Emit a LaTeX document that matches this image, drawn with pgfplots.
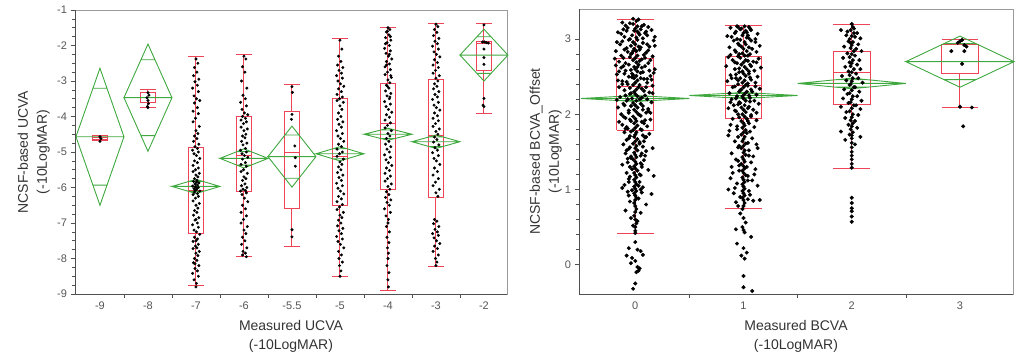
\documentclass[border=0pt]{standalone}
\usepackage{fontspec}
\setmainfont{Liberation Sans}
\usepackage{pgfplots}
\pgfplotsset{compat=1.18}

\definecolor{boxred}{HTML}{EE4458}
\definecolor{diagreen}{HTML}{3FA83F}
\definecolor{ticktext}{HTML}{555555}
\definecolor{frameg}{HTML}{9A9A9A}
\definecolor{framed}{HTML}{505050}

\pgfplotsset{
  jmpaxis/.style={
    scale only axis,
    anchor=south west,
    clip=false,
    axis line style={frameg, line width=0.8pt},
    tick align=outside,
    tick pos=left,
    major tick length=4.5pt,
    minor tick length=3.5pt,
    tick style={framed, line width=0.6pt},
    every major x tick/.append style={draw=none},
    tick label style={font=\fontsize{11}{13}\selectfont, text=ticktext},
    label style={font=\fontsize{14}{19}\selectfont, text=black!80, align=center, inner sep=0pt},
    xlabel style={at={(axis description cs:0.5,0)}, anchor=north, yshift=-26.5pt},
  },
  boxst/.style={boxred, line width=1pt, solid, no markers, unbounded coords=jump},
  diast/.style={diagreen, line width=0.9pt, no markers, unbounded coords=jump},
}

% quantile box: left x, centre x, right x, lower whisker, lower quartile, median, upper quartile, upper whisker
\newcommand{\jmpbox}[8]{%
  \addplot[boxst] coordinates {(#1,#5) (#3,#5) (#3,#7) (#1,#7) (#1,#5) (#2,nan)
    (#1,#6) (#3,#6) (#2,nan) (#2,#7) (#2,#8) (#2,nan) (#1,#8) (#3,#8) (#2,nan)
    (#2,#5) (#2,#4) (#2,nan) (#1,#4) (#3,#4)};}

\begin{document}
\begin{tikzpicture}
\useasboundingbox (0,0) rectangle (1022pt,360pt);

% ---------------- left panel: UCVA ----------------
\begin{axis}[
  jmpaxis,
  at={(75pt,66pt)},
  width=432pt, height=284pt,
  xmin=-0.52, xmax=8.48,
  ymin=-9, ymax=-1,
  xtick={0,...,8},
  xticklabels={-9,-8,-7,-6,-5.5,-5,-4,-3,-2},
  minor xtick={0.5,1.5,...,7.5},
  ytick={-9,-8,...,-1},
  yticklabels={-9,-8,-7,-6,-5,-4,-3,-2,-1},
  minor y tick num=3,
  xlabel={Measured UCVA\\(-10LogMAR)},
  ylabel={NCSF-based UCVA\\(-10LogMAR)},
  ylabel style={at={(axis description cs:-0.058,0.5)}, anchor=south},
]
% jittered observations
\addplot[only marks, mark=*, mark size=1.3pt, black] table {
x y
0.00 -4.57
0.02 -4.62
0.00 -4.70
1.00 -3.33
1.02 -3.40
0.98 -3.47
1.00 -3.55
1.01 -3.64
0.99 -3.72
1.00 -3.75
2.00 -2.38
2.04 -2.50
1.97 -2.62
2.02 -2.75
1.95 -2.85
2.06 -2.95
1.98 -3.02
2.03 -3.12
1.93 -3.20
2.05 -3.30
1.96 -3.42
2.01 -3.50
2.08 -3.55
1.97 -3.62
2.03 -3.75
1.94 -3.85
2.05 -3.92
1.99 -4.05
1.94 -4.15
2.07 -4.28
2.00 -4.40
2.04 -4.48
1.97 -4.55
2.02 -4.62
1.95 -4.70
2.06 -4.78
1.98 -4.85
2.03 -4.90
1.93 -4.95
2.05 -5.00
1.96 -5.05
2.01 -5.10
2.08 -5.18
1.97 -5.25
2.03 -5.30
1.94 -5.38
2.05 -5.45
1.99 -5.50
1.94 -5.55
2.07 -5.60
2.00 -5.65
2.04 -5.70
1.97 -5.75
2.02 -5.80
1.95 -5.83
2.06 -5.87
1.98 -5.90
2.03 -5.93
1.93 -5.96
2.05 -6.00
1.96 -6.03
2.01 -6.06
2.08 -6.10
1.97 -6.13
2.03 -6.17
1.94 -6.20
2.05 -6.25
1.99 -6.30
1.94 -6.38
2.07 -6.45
2.00 -6.50
2.04 -6.58
1.97 -6.65
2.02 -6.70
1.95 -6.78
2.06 -6.85
1.98 -6.92
2.03 -7.00
1.93 -7.05
2.05 -7.12
1.96 -7.20
2.01 -7.25
2.08 -7.32
1.97 -7.40
2.03 -7.45
1.94 -7.52
2.05 -7.60
1.99 -7.65
1.94 -7.72
2.07 -7.80
2.00 -7.85
2.04 -7.92
1.97 -8.00
2.02 -8.05
1.95 -8.12
2.06 -8.20
1.98 -8.28
2.03 -8.35
1.93 -8.42
2.05 -8.50
1.96 -8.60
2.01 -8.70
2.00 -8.80
1.99 -5.98
2.02 -6.02
1.98 -6.08
2.01 -5.85
2.00 -7.50
2.02 -7.70
1.98 -8.15
2.00 -6.90
3.00 -2.30
3.04 -2.38
2.97 -2.60
3.02 -2.75
2.95 -3.00
3.06 -3.20
2.98 -3.40
3.03 -3.50
2.93 -3.60
3.05 -3.70
2.96 -3.80
3.01 -3.90
3.08 -3.95
2.97 -4.00
3.03 -4.05
2.94 -4.10
3.05 -4.15
2.99 -4.20
2.94 -4.30
3.07 -4.35
3.00 -4.40
3.04 -4.50
2.97 -4.55
3.02 -4.60
2.95 -4.70
3.06 -4.75
2.98 -4.80
3.03 -4.90
2.93 -4.95
3.05 -5.00
2.96 -5.05
3.01 -5.10
3.08 -5.15
2.97 -5.20
3.03 -5.30
2.94 -5.35
3.05 -5.40
2.99 -5.50
2.94 -5.55
3.07 -5.60
3.00 -5.70
3.04 -5.75
2.97 -5.80
3.02 -5.90
2.95 -5.95
3.06 -6.00
2.98 -6.05
3.03 -6.08
2.93 -6.10
3.05 -6.15
2.96 -6.20
3.01 -6.30
3.08 -6.40
2.97 -6.50
3.03 -6.60
2.94 -6.70
3.05 -6.80
2.99 -6.90
2.94 -7.00
3.07 -7.10
3.00 -7.20
3.04 -7.30
2.97 -7.40
3.02 -7.50
2.95 -7.60
3.06 -7.70
2.98 -7.80
3.03 -7.85
2.97 -7.90
3.05 -7.95
4.00 -3.16
4.01 -3.32
4.00 -3.94
3.99 -4.08
4.06 -4.83
4.07 -5.16
4.07 -5.40
4.00 -7.19
4.00 -7.39
5.00 -1.85
5.04 -2.10
4.97 -2.30
5.02 -2.45
4.95 -2.55
5.06 -2.62
4.98 -2.70
5.03 -2.78
4.93 -2.85
5.05 -2.92
4.96 -3.00
5.01 -3.08
5.08 -3.15
4.97 -3.22
5.03 -3.30
4.94 -3.38
5.05 -3.45
4.99 -3.50
4.94 -3.55
5.07 -3.60
5.00 -3.70
5.04 -3.80
4.97 -3.90
5.02 -4.00
4.95 -4.08
5.06 -4.15
4.98 -4.22
5.03 -4.30
4.93 -4.40
5.05 -4.48
4.96 -4.55
5.01 -4.62
5.08 -4.70
4.97 -4.78
5.03 -4.85
4.94 -4.92
5.05 -5.00
4.99 -5.05
4.94 -5.12
5.07 -5.20
5.00 -5.28
5.04 -5.35
4.97 -5.42
5.02 -5.50
4.95 -5.58
5.06 -5.65
4.98 -5.72
5.03 -5.80
4.93 -5.88
5.05 -5.95
4.96 -6.02
5.01 -6.10
5.08 -6.18
4.97 -6.25
5.03 -6.32
4.94 -6.40
5.05 -6.48
4.99 -6.55
4.94 -6.62
5.07 -6.70
5.00 -6.78
5.04 -6.85
4.97 -6.92
5.02 -7.00
4.95 -7.08
5.06 -7.15
4.98 -7.22
5.03 -7.30
4.93 -7.38
5.05 -7.45
4.96 -7.52
5.01 -7.60
5.08 -7.70
4.97 -7.80
5.03 -7.90
4.98 -8.00
5.05 -8.10
4.99 -8.20
5.02 -8.35
5.00 -8.50
6.00 -1.50
6.04 -1.55
5.97 -1.62
6.02 -1.70
5.95 -1.78
6.06 -1.85
5.98 -1.92
6.03 -2.00
5.93 -2.08
6.05 -2.15
5.96 -2.22
6.01 -2.30
6.08 -2.38
5.97 -2.45
6.03 -2.52
5.94 -2.60
6.05 -2.68
5.99 -2.75
5.94 -2.82
6.07 -2.90
6.00 -2.97
6.04 -3.05
5.97 -3.12
6.02 -3.20
5.95 -3.28
6.06 -3.35
5.98 -3.42
6.03 -3.50
5.93 -3.58
6.05 -3.65
5.96 -3.72
6.01 -3.80
6.08 -3.88
5.97 -3.95
6.03 -4.02
5.94 -4.10
6.05 -4.18
5.99 -4.25
5.94 -4.32
6.07 -4.40
6.00 -4.48
6.04 -4.55
5.97 -4.62
6.02 -4.70
5.95 -4.78
6.06 -4.85
5.98 -4.92
6.03 -5.00
5.93 -5.08
6.05 -5.15
5.96 -5.22
6.01 -5.30
6.08 -5.38
5.97 -5.45
6.03 -5.52
5.94 -5.60
6.05 -5.68
5.99 -5.75
5.94 -5.82
6.07 -5.90
6.00 -5.97
6.04 -6.05
5.97 -6.12
6.02 -6.20
5.95 -6.28
6.06 -6.35
5.98 -6.42
6.03 -6.50
5.93 -6.60
6.05 -6.70
5.96 -6.80
6.01 -6.90
6.00 -7.00
5.97 -7.10
6.03 -7.25
5.98 -7.40
6.02 -7.55
5.99 -7.70
6.01 -7.85
6.00 -8.00
5.98 -8.20
6.02 -8.40
6.00 -8.60
6.01 -8.80
5.99 -1.60
6.05 -1.75
5.95 -1.95
6.03 -2.25
5.97 -2.55
6.06 -2.85
5.99 -3.15
6.04 -3.45
7.00 -1.40
7.04 -1.47
6.97 -1.55
7.02 -1.63
6.95 -1.72
7.06 -1.80
6.98 -1.88
7.03 -1.95
6.93 -2.02
7.05 -2.10
6.96 -2.18
7.01 -2.25
7.08 -2.32
6.97 -2.40
7.03 -2.48
6.94 -2.55
7.05 -2.62
6.99 -2.70
6.94 -2.78
7.07 -2.85
7.00 -2.92
7.04 -3.00
6.97 -3.08
7.02 -3.15
6.95 -3.22
7.06 -3.30
6.98 -3.38
7.03 -3.45
6.93 -3.52
7.05 -3.60
6.96 -3.68
7.01 -3.75
7.08 -3.82
6.97 -3.90
7.03 -3.98
6.94 -4.05
7.05 -4.12
6.99 -4.20
6.94 -4.28
7.07 -4.35
7.00 -4.42
7.04 -4.50
6.97 -4.58
7.02 -4.65
6.95 -4.72
7.06 -4.80
6.98 -4.88
7.03 -4.95
6.93 -5.02
7.05 -5.10
6.96 -5.18
7.01 -5.25
7.08 -5.35
6.97 -5.45
7.03 -5.55
6.94 -5.65
7.05 -5.75
6.99 -5.85
6.94 -5.95
7.07 -6.05
7.00 -6.15
7.04 -6.25
6.97 -6.90
7.02 -6.95
6.95 -7.02
7.06 -7.10
6.98 -7.18
7.03 -7.25
6.93 -7.30
7.05 -7.35
6.96 -7.42
7.01 -7.50
7.08 -7.58
6.97 -7.65
7.03 -7.72
6.94 -7.80
7.05 -7.90
6.99 -8.00
7.02 -8.10
7.00 -8.20
8.00 -1.42
7.97 -1.90
8.01 -1.90
8.05 -1.92
8.09 -1.93
8.00 -2.10
8.00 -2.34
8.00 -2.53
8.00 -3.49
7.98 -3.68
8.00 -3.72
};

% quantile boxes
\jmpbox{-0.165}{0}{0.165}{-4.67}{-4.66}{-4.60}{-4.53}{-4.53}
\jmpbox{0.835}{1}{1.165}{-3.75}{-3.60}{-3.47}{-3.32}{-3.23}
\jmpbox{1.835}{2}{2.165}{-8.76}{-7.30}{-6.08}{-4.86}{-2.32}
\jmpbox{2.835}{3}{3.165}{-7.95}{-6.12}{-5.10}{-3.99}{-2.24}
\jmpbox{3.835}{4}{4.165}{-7.66}{-6.59}{-5.02}{-3.87}{-3.09}
\jmpbox{4.835}{5}{5.165}{-8.50}{-6.51}{-5.14}{-3.49}{-1.79}
\jmpbox{5.835}{6}{6.165}{-8.90}{-6.06}{-4.20}{-3.06}{-1.49}
\jmpbox{6.835}{7}{7.165}{-8.22}{-6.27}{-4.53}{-2.97}{-1.38}
\jmpbox{7.835}{8}{8.165}{-3.92}{-2.69}{-1.94}{-1.88}{-1.37}

% mean diamonds
\addplot[diast] coordinates {(-0.5,-4.57) (0,-2.64) (0.5,-4.57) (0,-6.50) (-0.5,-4.57) (0.5,-4.57) (0,nan) (-0.146,-3.205) (0.146,-3.205) (0,nan) (-0.146,-5.935) (0.146,-5.935)};
\addplot[diast] coordinates {(0.5,-3.47) (1,-1.96) (1.5,-3.47) (1,-4.98) (0.5,-3.47) (1.5,-3.47) (1,nan) (0.854,-2.402) (1.146,-2.402) (1,nan) (0.854,-4.538) (1.146,-4.538)};
\addplot[diast] coordinates {(1.5,-5.97) (2,-5.77) (2.5,-5.97) (2,-6.17) (1.5,-5.97) (2.5,-5.97) (2,nan) (1.854,-5.829) (2.146,-5.829) (2,nan) (1.854,-6.111) (2.146,-6.111)};
\addplot[diast] coordinates {(2.5,-5.18) (3,-4.91) (3.5,-5.18) (3,-5.45) (2.5,-5.18) (3.5,-5.18) (3,nan) (2.854,-4.989) (3.146,-4.989) (3,nan) (2.854,-5.371) (3.146,-5.371)};
\addplot[diast] coordinates {(3.5,-5.13) (4,-4.27) (4.5,-5.13) (4,-5.99) (3.5,-5.13) (4.5,-5.13) (4,nan) (3.854,-4.522) (4.146,-4.522) (4,nan) (3.854,-5.738) (4.146,-5.738)};
\addplot[diast] coordinates {(4.5,-5.05) (5,-4.85) (5.5,-5.05) (5,-5.25) (4.5,-5.05) (5.5,-5.05) (5,nan) (4.854,-4.909) (5.146,-4.909) (5,nan) (4.854,-5.191) (5.146,-5.191)};
\addplot[diast] coordinates {(5.5,-4.50) (6,-4.33) (6.5,-4.50) (6,-4.67) (5.5,-4.50) (6.5,-4.50) (6,nan) (5.854,-4.380) (6.146,-4.380) (6,nan) (5.854,-4.620) (6.146,-4.620)};
\addplot[diast] coordinates {(6.5,-4.71) (7,-4.52) (7.5,-4.71) (7,-4.90) (6.5,-4.71) (7.5,-4.71) (7,nan) (6.854,-4.576) (7.146,-4.576) (7,nan) (6.854,-4.844) (7.146,-4.844)};
\addplot[diast] coordinates {(7.5,-2.27) (8,-1.54) (8.5,-2.27) (8,-3.00) (7.5,-2.27) (8.5,-2.27) (8,nan) (7.854,-1.754) (8.146,-1.754) (8,nan) (7.854,-2.786) (8.146,-2.786)};

\draw[framed, line width=0.8pt] (rel axis cs:0,1) -- (rel axis cs:0,0) -- (rel axis cs:1,0);
\end{axis}

% ---------------- right panel: BCVA ----------------
\begin{axis}[
  jmpaxis,
  at={(579pt,66pt)},
  width=434pt, height=285pt,
  xmin=-0.52, xmax=3.49,
  ymin=-0.39, ymax=3.40,
  xtick={0,1,2,3},
  xticklabels={0,1,2,3},
  minor xtick={0.5,1.5,2.5},
  ytick={0,1,2,3},
  yticklabels={0,1,2,3},
  minor y tick num=4,
  xlabel={Measured BCVA\\(-10LogMAR)},
  ylabel={NCSF-based BCVA\_Offset\\(-10LogMAR)},
  ylabel style={at={(axis description cs:-0.039,0.5)}, anchor=south},
]
\addplot[only marks, mark=*, mark size=1.8pt, black] table {
x y
0.01 3.24
-0.02 3.20
0.02 3.17
0.00 3.14
-0.01 3.11
0.03 3.08
-0.03 3.05
0.01 3.02
0.02 2.99
-0.02 2.96
0.00 2.93
0.03 2.90
-0.01 2.87
0.01 2.84
-0.03 2.81
0.02 2.78
0.00 2.75
-0.02 2.72
0.01 2.69
0.03 2.66
-0.01 2.63
0.00 2.60
0.02 2.57
-0.03 2.54
0.01 2.51
-0.01 2.48
0.02 2.45
0.00 2.42
-0.02 2.39
0.03 2.36
0.01 2.33
-0.01 2.30
0.00 2.27
0.02 2.24
-0.03 2.21
0.01 2.18
-0.02 2.15
0.00 2.12
0.02 2.09
-0.01 2.06
0.01 2.03
0.03 2.00
-0.02 1.97
0.00 1.94
0.01 1.91
-0.01 1.88
0.02 1.85
0.00 1.82
-0.02 1.79
0.01 1.76
0.00 1.73
-0.01 1.70
0.02 1.67
0.00 1.64
-0.02 1.61
0.01 1.58
0.00 1.55
0.02 1.52
-0.01 1.49
0.00 1.46
0.01 1.43
-0.02 1.40
0.00 1.37
0.01 1.34
-0.01 1.31
0.00 1.28
0.02 1.25
-0.01 1.22
0.00 1.19
0.01 1.16
-0.01 1.13
0.00 1.10
0.01 1.07
-0.01 1.04
0.00 1.01
0.01 0.98
-0.01 0.95
0.00 0.92
0.01 0.89
0.00 0.86
-0.01 0.82
0.00 0.78
0.01 0.74
0.00 0.70
-0.01 0.65
0.00 0.60
0.01 0.55
0.00 0.50
0.00 0.45
0.00 0.42
-0.12 3.22
0.08 3.19
-0.07 3.15
0.15 3.12
-0.16 3.09
0.05 3.13
0.11 3.05
-0.10 3.03
-0.05 3.00
0.17 2.98
0.07 2.95
-0.14 2.93
0.13 2.90
-0.08 2.88
0.04 2.86
-0.18 2.84
0.10 2.82
-0.04 2.80
0.16 2.77
-0.11 2.75
0.06 2.73
-0.15 2.70
0.12 2.68
-0.06 2.66
0.09 2.64
-0.13 2.62
0.18 2.60
-0.09 2.58
0.05 2.55
-0.17 2.53
0.14 2.51
-0.03 2.49
0.08 2.47
-0.12 2.44
0.11 2.42
-0.07 2.40
0.16 2.38
-0.15 2.36
0.06 2.34
-0.10 2.32
0.13 2.29
-0.05 2.27
0.09 2.25
-0.14 2.23
0.04 2.20
-0.08 2.18
0.15 2.16
-0.11 2.14
0.07 2.11
-0.16 2.09
0.12 2.07
-0.06 2.05
0.10 2.02
-0.13 2.00
0.05 1.98
-0.09 1.95
0.14 1.93
-0.04 1.91
0.08 1.88
-0.12 1.86
0.11 1.84
-0.07 1.81
0.06 1.79
-0.10 1.76
0.13 1.74
-0.05 1.71
0.09 1.69
-0.08 1.66
0.04 1.63
-0.11 1.60
0.07 1.57
-0.06 1.54
0.10 1.51
-0.09 1.48
0.05 1.45
-0.04 1.42
0.08 1.39
-0.07 1.36
0.06 1.33
-0.05 1.30
0.12 1.26
-0.08 1.22
0.05 1.19
0.17 1.18
-0.06 1.14
0.04 1.10
-0.10 1.06
0.07 1.03
-0.03 0.99
0.06 0.96
-0.12 1.02
0.15 0.94
-0.06 0.92
0.03 0.88
-0.05 0.84
0.10 0.80
-0.09 0.72
0.05 0.69
-0.04 0.62
0.02 0.58
-0.02 0.52
-0.02 3.27
0.03 3.26
-0.09 3.18
0.12 3.16
-0.13 3.07
0.02 3.10
0.09 3.08
-0.17 2.96
0.18 2.91
-0.02 2.84
0.14 2.72
-0.18 2.65
0.17 2.55
-0.16 2.45
0.02 2.63
-0.02 2.52
-0.05 3.21
0.06 3.17
-0.08 3.11
0.04 3.06
-0.06 2.99
0.07 3.01
-0.04 2.91
0.05 2.89
-0.07 2.83
0.08 2.79
-0.05 2.76
0.04 2.71
-0.09 2.68
0.06 2.62
-0.04 2.59
0.07 2.56
-0.06 2.50
0.05 2.48
-0.08 2.43
0.04 2.39
-0.05 2.35
0.08 2.31
-0.04 2.28
0.06 2.22
-0.07 2.20
0.05 2.14
-0.04 2.11
0.07 2.06
-0.06 2.02
0.04 1.99
-0.05 1.93
0.06 1.90
-0.08 1.83
0.05 1.80
-0.04 1.77
0.07 1.72
-0.06 1.68
0.04 1.61
-0.05 1.56
0.06 1.48
-0.04 1.44
0.05 1.35
-0.03 1.27
0.04 1.20
-0.05 1.17
0.03 1.05
-0.11 3.13
0.10 3.10
-0.12 2.97
0.11 2.93
-0.10 2.86
0.12 2.85
-0.13 2.78
0.09 2.75
-0.11 2.64
0.13 2.58
-0.10 2.54
0.11 2.47
-0.12 2.40
0.10 2.36
-0.09 2.25
0.11 2.20
-0.10 2.12
0.12 2.04
-0.11 1.97
0.09 1.92
-0.09 1.81
0.10 1.70
-0.08 1.52
0.09 1.45
0.15 2.46
-0.15 2.57
0.16 2.28
-0.17 2.19
0.14 2.02
-0.15 1.90
0.18 3.03
-0.19 2.74
0.08 1.64
-0.07 1.41
0.06 1.30
-0.06 1.10
0.05 1.00
-0.07 0.97
0.16 1.55
-0.12 1.33
0.00 0.30
-0.06 0.22
0.02 0.20
0.07 0.13
-0.08 0.12
0.00 0.05
-0.04 0.02
0.02 -0.03
0.03 -0.08
0.01 -0.10
0.00 -0.25
-0.02 -0.32
0.05 0.18
-0.03 0.09
0.04 -0.05
1.01 3.17
0.98 3.14
1.02 3.11
1.00 3.08
0.99 3.05
1.03 3.02
0.97 2.99
1.01 2.96
1.02 2.93
0.98 2.90
1.00 2.87
1.03 2.84
0.99 2.81
1.01 2.78
0.97 2.75
1.02 2.72
1.00 2.69
0.98 2.66
1.01 2.63
1.03 2.60
0.99 2.57
1.00 2.54
1.02 2.51
0.97 2.48
1.01 2.45
0.99 2.42
1.02 2.39
1.00 2.36
0.98 2.33
1.03 2.30
1.01 2.27
0.99 2.24
1.00 2.21
1.02 2.18
0.97 2.15
1.01 2.12
0.98 2.09
1.00 2.06
1.02 2.03
0.99 2.00
1.01 1.97
1.03 1.94
0.98 1.91
1.00 1.88
1.01 1.85
0.99 1.82
1.02 1.79
1.00 1.76
0.98 1.73
1.01 1.70
1.00 1.67
0.99 1.64
1.02 1.61
1.00 1.58
0.98 1.55
1.01 1.52
1.00 1.49
1.02 1.46
0.99 1.43
1.00 1.40
1.01 1.37
0.98 1.34
1.00 1.31
1.01 1.28
0.99 1.25
1.00 1.22
1.02 1.19
0.99 1.16
1.00 1.13
1.01 1.10
0.99 1.07
1.00 1.04
1.01 1.01
0.99 0.98
1.00 0.95
1.01 0.92
0.99 0.89
1.00 0.86
1.01 0.82
1.00 0.78
0.99 0.74
0.88 3.15
1.07 3.12
0.93 3.10
1.13 3.07
0.85 3.04
1.05 3.01
0.91 2.98
1.11 2.96
0.95 2.94
1.15 2.91
0.87 2.89
1.08 2.87
0.92 2.85
1.12 2.83
0.96 2.80
1.04 2.78
0.86 2.76
1.14 2.74
0.90 2.72
1.09 2.70
0.94 2.68
1.06 2.66
0.84 2.64
1.16 2.62
0.92 2.60
1.10 2.58
0.96 2.56
1.05 2.54
0.88 2.52
1.13 2.50
0.93 2.48
1.07 2.46
0.85 2.44
1.11 2.42
0.95 2.40
1.04 2.38
0.90 2.36
1.15 2.34
0.97 2.32
1.08 2.30
0.87 2.28
1.12 2.26
0.94 2.24
1.06 2.22
0.89 2.20
1.10 2.18
0.96 2.16
1.14 2.14
0.91 2.12
1.05 2.10
0.86 2.08
1.09 2.06
0.93 2.04
1.12 2.02
0.95 2.00
1.07 1.97
0.90 1.94
1.04 1.91
0.88 1.86
1.10 1.83
0.94 1.80
1.06 1.77
0.86 1.72
1.08 1.68
0.92 1.64
1.12 1.60
0.95 1.56
1.05 1.52
0.89 1.48
1.09 1.44
0.93 1.40
1.07 1.36
0.96 1.32
1.11 1.27
0.90 1.22
1.04 1.18
0.88 1.15
1.08 1.12
0.94 1.08
1.13 1.05
0.92 1.02
1.05 0.98
0.91 0.95
1.06 0.93
0.97 0.90
1.04 0.87
0.93 0.83
1.09 0.85
0.95 0.78
0.94 3.17
1.05 3.16
0.97 3.13
1.03 3.09
0.95 3.16
1.06 3.14
0.92 3.08
1.04 3.05
0.94 3.00
1.07 2.98
0.96 2.92
1.05 2.89
0.93 2.83
1.06 2.80
0.95 2.77
1.04 2.71
0.92 2.69
1.07 2.64
0.96 2.61
1.05 2.57
0.93 2.53
1.06 2.49
0.95 2.45
1.04 2.41
0.92 2.37
1.07 2.33
0.96 2.30
1.05 2.25
0.93 2.21
1.06 2.17
0.95 2.13
1.04 2.08
0.92 2.05
1.07 1.99
0.96 1.96
1.05 1.88
0.94 1.84
1.03 1.75
0.95 1.70
1.04 1.62
0.96 1.58
1.05 1.45
0.95 1.38
1.03 1.30
0.96 1.25
1.04 1.12
0.89 3.03
1.11 3.00
0.88 2.79
1.12 2.69
0.89 2.48
1.11 2.37
0.88 2.16
1.12 1.92
0.87 1.78
1.13 1.55
0.89 1.30
1.10 1.20
0.86 1.00
1.15 0.86
0.97 0.68
1.00 0.62
1.02 0.56
0.93 0.47
1.01 0.43
1.07 0.37
0.94 0.28
1.00 0.22
1.03 0.16
0.98 0.12
1.01 0.08
1.00 -0.15
1.00 -0.30
1.08 -0.35
1.00 0.46
0.99 0.50
2.00 3.20
2.01 3.16
1.99 3.12
2.02 3.08
2.00 3.04
1.98 3.00
2.01 2.96
2.00 2.92
1.99 2.88
2.02 2.84
2.00 2.80
1.98 2.76
2.01 2.72
2.00 2.68
1.99 2.64
2.02 2.60
2.00 2.56
1.98 2.52
2.01 2.48
2.00 2.44
1.99 2.40
2.02 2.36
2.00 2.32
1.98 2.28
2.01 2.24
2.00 2.20
1.99 2.16
2.02 2.12
2.00 2.08
1.98 2.04
2.01 2.00
2.00 1.96
1.99 1.92
2.01 1.88
2.00 1.84
1.99 1.80
2.01 1.76
2.00 1.72
2.00 1.68
2.00 1.62
2.00 1.56
2.00 1.50
2.00 1.45
2.00 1.40
2.00 1.34
2.00 1.29
2.00 0.89
2.00 0.82
2.00 0.75
2.00 0.71
2.00 0.64
2.00 0.57
1.90 3.12
2.05 3.08
1.95 3.05
2.08 3.01
1.97 2.97
2.06 2.93
1.93 2.90
2.04 2.87
2.09 2.84
1.96 2.81
2.03 2.78
1.92 2.75
2.07 2.72
1.98 2.69
2.05 2.66
1.94 2.63
2.08 2.60
1.97 2.57
2.04 2.54
1.91 2.51
2.06 2.48
1.95 2.45
2.10 2.42
1.98 2.39
2.03 2.36
1.93 2.33
2.07 2.30
1.96 2.27
2.05 2.24
1.92 2.21
2.09 2.18
1.97 2.15
2.04 2.12
1.90 2.10
2.08 2.07
1.95 2.03
2.06 1.99
1.94 1.95
2.03 1.91
1.97 1.86
2.05 1.82
1.90 1.77
1.98 1.73
2.08 1.70
1.94 1.66
2.03 1.60
2.02 3.14
1.96 3.10
2.03 3.03
1.99 2.95
3.02 2.99
3.00 2.97
2.98 2.95
3.04 2.92
3.06 2.90
2.92 2.84
3.04 2.84
3.02 2.67
3.00 2.10
3.11 2.09
3.03 1.84
};

\jmpbox{-0.17}{0}{0.17}{0.41}{1.79}{2.37}{2.74}{3.26}
\jmpbox{0.83}{1}{1.17}{0.75}{1.95}{2.38}{2.77}{3.18}
\jmpbox{1.83}{2}{2.17}{1.28}{2.13}{2.55}{2.83}{3.20}
\jmpbox{2.83}{3}{3.17}{2.09}{2.54}{2.93}{2.93}{3.00}

\addplot[diast] coordinates {(-0.5,2.21) (0,2.25) (0.5,2.21) (0,2.17) (-0.5,2.21) (0.5,2.21) (0,nan) (-0.146,2.238) (0.146,2.238) (0,nan) (-0.146,2.182) (0.146,2.182)};
\addplot[diast] coordinates {(0.5,2.25) (1,2.29) (1.5,2.25) (1,2.21) (0.5,2.25) (1.5,2.25) (1,nan) (0.854,2.278) (1.146,2.278) (1,nan) (0.854,2.222) (1.146,2.222)};
\addplot[diast] coordinates {(1.5,2.41) (2,2.48) (2.5,2.41) (2,2.34) (1.5,2.41) (2.5,2.41) (2,nan) (1.854,2.459) (2.146,2.459) (2,nan) (1.854,2.361) (2.146,2.361)};
\addplot[diast] coordinates {(2.5,2.70) (3,3.04) (3.5,2.70) (3,2.36) (2.5,2.70) (3.5,2.70) (3,nan) (2.854,2.940) (3.146,2.940) (3,nan) (2.854,2.460) (3.146,2.460)};

\draw[framed, line width=0.8pt] (rel axis cs:0,1) -- (rel axis cs:0,0) -- (rel axis cs:1,0);
\end{axis}
\end{tikzpicture}
\end{document}
